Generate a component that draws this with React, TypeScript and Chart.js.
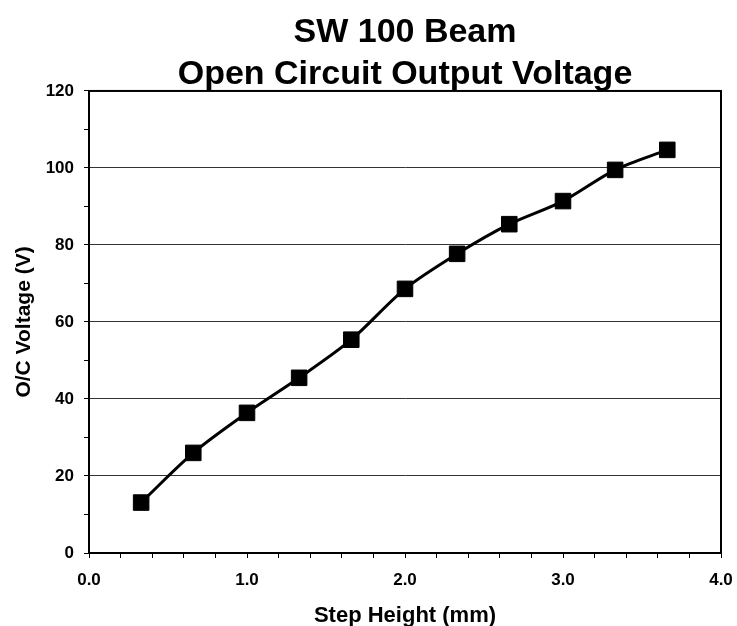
import React, { useEffect, useRef } from 'react';
import { Chart, registerables } from 'chart.js';

Chart.register(...registerables);

const stepHeights = [0.33, 0.66, 1.0, 1.33, 1.66, 2.0, 2.33, 2.66, 3.0, 3.33, 3.66];
const voltages = [13.1, 26.0, 36.4, 45.5, 55.4, 68.6, 77.7, 85.4, 91.4, 99.5, 104.7];
const titleLines = ['SW 100 Beam', 'Open Circuit Output Voltage'];
const xAxisTitle = 'Step Height (mm)';
const yAxisTitle = 'O/C Voltage (V)';

const FONT = "'Liberation Sans', Arial, sans-serif";

const framePlugin = {
  id: 'frame',
  afterDraw(chart: any) {
    const { ctx, chartArea } = chart;
    ctx.save();
    ctx.strokeStyle = '#000';
    ctx.lineWidth = 2;
    ctx.strokeRect(chartArea.left, chartArea.top, chartArea.right - chartArea.left, chartArea.bottom - chartArea.top);
    ctx.restore();
  },
};

export default function App() {
  const ref = useRef<HTMLCanvasElement | null>(null);

  useEffect(() => {
    if (!ref.current) return;
    const chart = new Chart(ref.current, {
      type: 'line',
      data: {
        datasets: [
          {
            label: 'O/C Voltage',
            data: stepHeights.map((x, i) => ({ x, y: voltages[i] })),
            borderColor: '#000',
            backgroundColor: '#000',
            borderWidth: 3,
            tension: 0.3,
            pointStyle: 'rect',
            pointRadius: 11,
            pointBorderWidth: 1,
            pointBackgroundColor: '#000',
            pointBorderColor: '#000',
            fill: false,
          },
        ],
      },
      options: {
        responsive: false,
        animation: false,
        layout: { padding: { left: 0, right: 16, top: 0, bottom: 0 } },
        plugins: {
          legend: { display: false },
          tooltip: { enabled: false },
          title: {
            display: true,
            text: titleLines,
            fullSize: false,
            color: '#000',
            font: { family: FONT, size: 34, weight: 'bold', lineHeight: 1.22 },
            padding: { top: 12, bottom: -4 },
          },
        },
        scales: {
          x: {
            type: 'linear',
            min: 0,
            max: 4,
            afterFit: (s: any) => {
              s.height = 73;
              s.paddingRight = 0;
              s.paddingLeft = 0;
            },
            ticks: {
              stepSize: 0.2,
              autoSkip: false,
              maxRotation: 0,
              color: '#000',
              padding: 12,
              font: { family: FONT, size: 17, weight: 'bold' },
              callback: (v: any) => {
                const n = Number(v);
                return Math.abs(n - Math.round(n)) < 1e-6 ? n.toFixed(1) : '';
              },
            },
            grid: {
              drawOnChartArea: false,
              tickLength: 5,
              tickColor: '#000',
              tickWidth: 1,
            },
            border: { display: true, color: '#000', width: 2 },
            title: {
              display: true,
              text: xAxisTitle,
              color: '#000',
              font: { family: FONT, size: 22, weight: 'bold', lineHeight: 1 },
              padding: { top: 0, bottom: -1 },
            },
          },
          y: {
            type: 'linear',
            min: 0,
            max: 120,
            afterFit: (s: any) => {
              s.width = 89;
            },
            ticks: {
              stepSize: 10,
              autoSkip: false,
              color: '#000',
              padding: 10,
              font: { family: FONT, size: 17, weight: 'bold' },
              callback: (v: any) => {
                const n = Number(v);
                return n % 20 === 0 ? String(n) : '';
              },
            },
            grid: {
              color: (c: any) => (c.tick && c.tick.value % 20 === 0 ? '#333' : 'rgba(0,0,0,0)'),
              lineWidth: 1,
              tickLength: 5,
              tickColor: '#000',
            },
            border: { display: true, color: '#000', width: 2 },
            title: {
              display: true,
              text: yAxisTitle,
              color: '#000',
              font: { family: FONT, size: 21, weight: 'bold', lineHeight: 1.2 },
              padding: { top: 12, bottom: 0 },
            },
          },
        },
      },
      plugins: [framePlugin],
    });
    return () => chart.destroy();
  }, []);

  return (
    <div style={{ position: 'absolute', left: 0, top: 0, width: 737, height: 626, background: '#fff' }}>
      <canvas ref={ref} width={737} height={626} style={{ width: 737, height: 626 }} />
    </div>
  );
}
